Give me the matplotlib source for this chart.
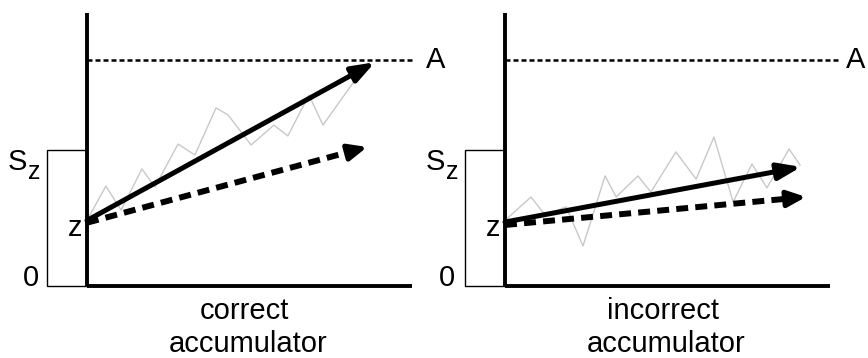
import matplotlib
matplotlib.use("Agg")
import matplotlib.pyplot as plt
from matplotlib.patches import Rectangle

plt.rcParams['font.family'] = ['Liberation Sans', 'DejaVu Sans']

# evidence scale: 0 = floor, 1 = threshold A
THRESHOLD = 1.0
START_LEVEL = 0.6          # S_z, height of the starting-point box
BOX_WIDTH = 1.23
AXIS_LEN = 10.0
AXIS_TOP = 1.21

PANEL_TITLES = ['correct', 'incorrect']

# starting point z per panel
Z_LEVEL = [0.29, 0.283]

# solid (mean drift) arrows: start y, tip x, tip y
SOLID_START = [0.29, 0.283]
SOLID_TIP_X = [8.86, 9.11]
SOLID_TIP_Y = [0.99, 0.527]

# dashed (alternative drift) arrows
DASH_START = [0.28, 0.27]
DASH_TIP_X = [8.62, 9.26]
DASH_TIP_Y = [0.615, 0.394]

# single noisy accumulation traces
TRACE_T = [
    [0.0, 0.58, 1.05, 1.69, 2.09, 2.80, 3.32, 3.97, 4.34, 5.05, 5.75, 6.18,
     6.83, 7.26, 8.40, 8.55],
    [0.0, 0.80, 1.23, 1.88, 2.40, 3.08, 3.42, 4.09, 4.49, 5.26, 5.88, 6.43,
     7.02, 7.60, 8.06, 8.74, 9.08],
]
TRACE_Y = [
    [0.29, 0.442, 0.336, 0.518, 0.438, 0.628, 0.580, 0.788, 0.757, 0.624,
     0.712, 0.664, 0.845, 0.712, 0.942, 0.97],
    [0.29, 0.394, 0.314, 0.350, 0.177, 0.487, 0.394, 0.487, 0.416, 0.593,
     0.473, 0.659, 0.372, 0.540, 0.434, 0.606, 0.535],
]

A_LINE_END = [10.05, 10.25]
A_LABEL_X = [10.43, 10.49]
S_LABEL_X = [-1.85, -1.85]
ZERO_LABEL_X = [-1.48, -1.54]

FS = 21

fig = plt.figure(figsize=(8.68, 3.58), dpi=100)
positions = [[0.006624, 0.01173, 0.48675, 0.97849],
             [0.48819, 0.01173, 0.48675, 0.97849]]

for i in range(2):
    ax = fig.add_axes(positions[i])
    ax.set_xlim(-2.5, 10.5)
    ax.set_ylim(-0.3, 1.25)
    ax.axis('off')

    # starting-point box
    ax.add_patch(Rectangle((-BOX_WIDTH, 0), BOX_WIDTH, START_LEVEL,
                           fill=False, edgecolor='black', lw=1.0, zorder=2))

    # threshold
    ax.plot([0, A_LINE_END[i]], [THRESHOLD, THRESHOLD], color='black',
            lw=1.8, linestyle=(0, (2.0, 1.2)), zorder=2)

    # noisy trace
    ax.plot(TRACE_T[i], TRACE_Y[i], color='#c8c8c8', lw=1.0, zorder=3)

    # axes
    ax.plot([0, 0], [0, AXIS_TOP], color='black', lw=2.8,
            solid_capstyle='butt', zorder=5)
    ax.plot([0, AXIS_LEN], [0, 0], color='black', lw=2.8,
            solid_capstyle='butt', zorder=5)

    # solid drift arrow
    ax.annotate('', xy=(SOLID_TIP_X[i], SOLID_TIP_Y[i]),
                xytext=(0, SOLID_START[i]),
                arrowprops=dict(arrowstyle='-|>,head_length=0.55,head_width=0.2',
                                mutation_scale=25, lw=3.6, color='black',
                                shrinkA=0, shrinkB=0), zorder=4)

    # dashed drift arrow: dashed shaft plus a short solid piece with the head
    f = 0.93
    mx = DASH_TIP_X[i] * f
    my = DASH_START[i] + (DASH_TIP_Y[i] - DASH_START[i]) * f
    ax.plot([0, mx], [DASH_START[i], my], color='black', lw=4.3,
            linestyle=(0, (2.0, 1.2)), solid_capstyle='butt', zorder=4)
    ax.annotate('', xy=(DASH_TIP_X[i], DASH_TIP_Y[i]), xytext=(mx, my),
                arrowprops=dict(arrowstyle='-|>,head_length=0.5,head_width=0.22',
                                mutation_scale=22, lw=3.6, color='black',
                                shrinkA=0, shrinkB=0), zorder=4)

    # labels
    ax.text(A_LABEL_X[i], THRESHOLD, 'A', fontsize=FS, ha='left', va='center')
    ax.text(S_LABEL_X[i], 0.513, 'S', fontsize=FS, ha='right', va='baseline')
    ax.text(S_LABEL_X[i] + 0.03, 0.473, 'z', fontsize=18, ha='left',
            va='baseline')
    ax.text(-0.15, 0.221, 'z', fontsize=FS, ha='right', va='baseline')
    ax.text(ZERO_LABEL_X[i], 0.0, '0', fontsize=FS, ha='right', va='baseline')
    ax.text(4.85, -0.148, PANEL_TITLES[i], fontsize=FS, ha='center',
            va='baseline')
    ax.text(4.95, -0.292, 'accumulator', fontsize=FS, ha='center',
            va='baseline')

fig.savefig('out.png', dpi=100)
